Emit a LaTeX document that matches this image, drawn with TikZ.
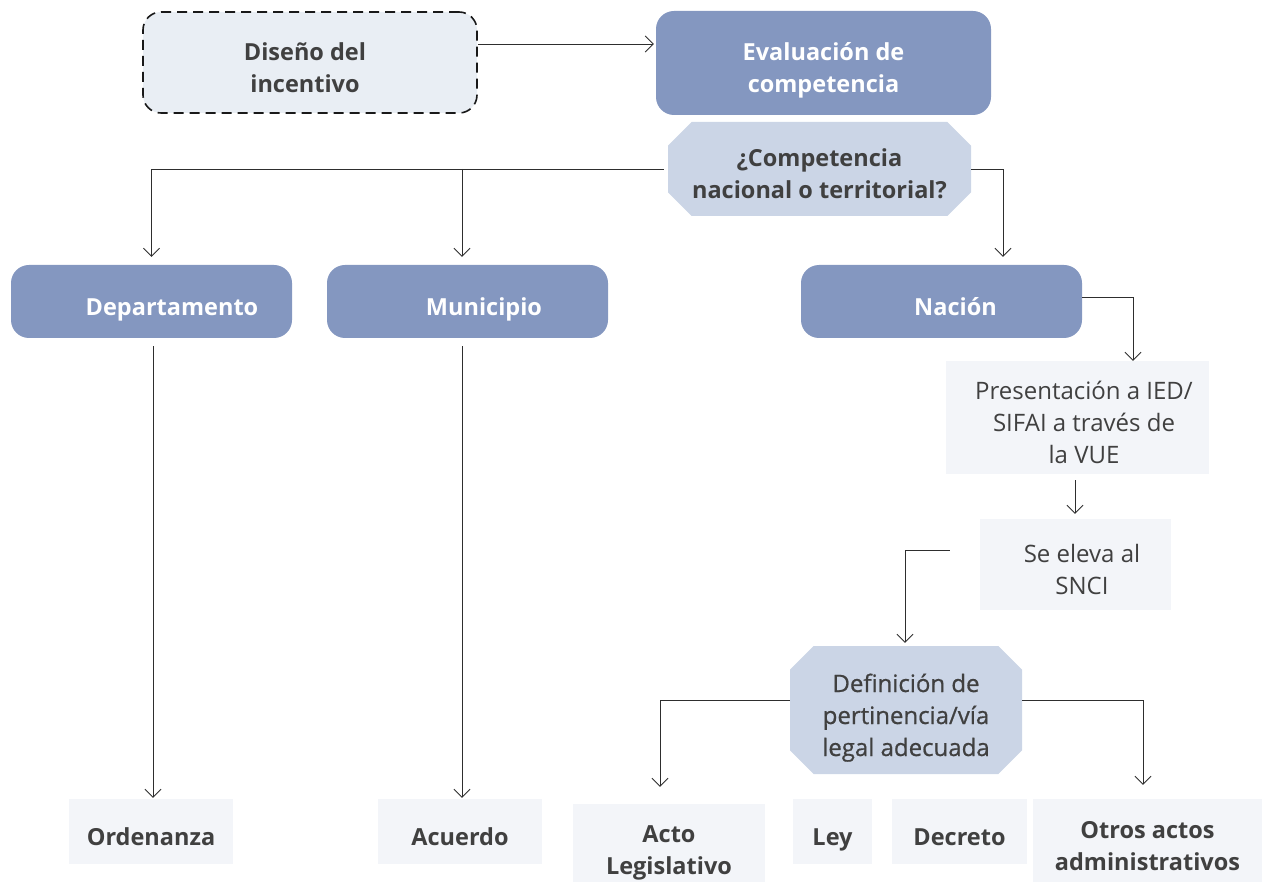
\documentclass[tikz,border=0pt]{standalone}
\usepackage{fontspec}
\setmainfont{Open Sans}
\usetikzlibrary{arrows.meta,shapes.misc}
\definecolor{dblue}{HTML}{8497C0}
\definecolor{lblue}{HTML}{CBD5E6}
\definecolor{pale}{HTML}{F3F5F9}
\definecolor{dashfill}{HTML}{E9EEF4}
\definecolor{txt}{HTML}{404040}
\definecolor{ln}{HTML}{2E2E2E}
\newcommand\tp{\rule{0pt}{35pt}}
\newcommand\bt{\rule[-7pt]{0pt}{7pt}}
\newcommand\tpx{\rule{0pt}{37pt}}
\begin{document}
\begin{tikzpicture}[x=1pt,y=-1pt,
  base/.style={align=center, inner sep=0pt, text=txt, font=\fontsize{23.5}{32}\selectfont\bfseries},
  dbox/.style={base, fill=dblue, rounded corners=18pt, text=white},
  dashbox/.style={base, fill=dashfill, draw=black!90, line width=1.6pt, dash pattern=on 10pt off 6pt, rounded corners=18pt},
  oct/.style={base, fill=lblue, chamfered rectangle, chamfered rectangle angle=45, chamfered rectangle xsep=20pt},
  pbox/.style={base, fill=pale},
  pnorm/.style={pbox, font=\fontsize{24}{32}\selectfont},
  arr/.style={draw=ln, line width=0.9pt, -{Straight Barb[length=8pt,width=16pt]}},
]
\useasboundingbox (0,0) rectangle (1262,882);

\node[dashbox, minimum width=334pt, minimum height=101pt] (d) at (310,62.5) {\tp\hspace*{-10pt}Diseño del\\\hspace*{-10pt}incentivo\bt};
\node[dbox, minimum width=335pt, minimum height=104pt] (e) at (823.5,63) {\tp Evaluación de\\competencia\bt};
\node[oct, minimum width=303pt, minimum height=94pt] (q) at (819.5,169) {\tp¿Competencia\\nacional o territorial?\bt};

\node[dbox, minimum width=281pt, minimum height=73pt] (dep) at (151.5,301.5) {\tp\hspace*{41pt}Departamento\bt};
\node[dbox, minimum width=281pt, minimum height=73pt] (mun) at (467.5,301.5) {\tp\hspace*{33pt}Municipio\bt};
\node[dbox, minimum width=281pt, minimum height=73pt] (nac) at (941.5,301.5) {\tp\hspace*{28pt}Nación\bt};

\node[pnorm, minimum width=263pt, minimum height=113pt] (pres) at (1077.5,417.5) {\tp\hspace*{13pt}Presentación a IED/\\\hspace*{13pt}SIFAI a través de\\\hspace*{13pt}la VUE\bt};
\node[pnorm, minimum width=191pt, minimum height=91pt] (se) at (1075.5,564.5) {\tp\hspace*{13pt}Se eleva al\\\hspace*{13pt}SNCI\bt};
\node[oct, font=\fontsize{24}{32}\selectfont\addfontfeature{FakeBold=0.7}, minimum width=232pt, minimum height=128pt] (def) at (906,710) {\tp Definición de\\pertinencia/vía\\legal adecuada\bt};

\node[pbox, minimum width=164pt, minimum height=65pt] (ord) at (151,831.5) {\tp Ordenanza\bt};
\node[pbox, minimum width=164pt, minimum height=65pt] (acu) at (460,831.5) {\tp Acuerdo\bt};
\node[pbox, minimum width=192pt, minimum height=78pt] (acto) at (669,843) {\tpx Acto\\Legislativo\bt};
\node[pbox, minimum width=79pt, minimum height=65pt] (ley) at (832.5,831.5) {\tp Ley\bt};
\node[pbox, minimum width=135pt, minimum height=65pt] (dec) at (959.5,831.5) {\tp Decreto\bt};
\node[pbox, minimum width=229pt, minimum height=83pt] (otros) at (1147.5,840.5) {\tp Otros actos\\administrativos\bt};

% connectors
\draw[arr] (d.east |- 0,44) -- ([xshift=-2pt]e.west |- 0,44);
\draw[arr, shorten <=4pt, shorten >=8pt] (q.west) -| (dep.north);
\draw[arr, shorten >=8pt] ([xshift=-5.5pt]mun.north |- q.west) -- ([xshift=-5.5pt]mun.north);
\draw[arr, shorten >=8pt] (q.east) -| ([xshift=61.5pt]nac.north);
\draw[arr, shorten <=8pt, shorten >=1pt] ([xshift=1.5pt]dep.south) -- ([xshift=2pt]ord.north);
\draw[arr, shorten <=8pt, shorten >=1pt] ([xshift=-5.5pt]mun.south) -- ([xshift=-5.5pt]mun.south |- acu.north);
\draw[arr] ([yshift=4.5pt]nac.east) -| ([xshift=55.5pt]pres.north);
\draw[arr, shorten <=6pt, shorten >=5pt] ([xshift=-2.5pt]pres.south) -- ([xshift=-0.5pt]se.north);
\draw[arr, shorten <=30pt, shorten >=3pt] ([yshift=14.5pt]se.west) -| ([xshift=-1pt]def.north);
\draw[arr, shorten >=17pt] ([yshift=10pt]def.west) -| ([xshift=-9pt]acto.north);
\draw[arr, shorten >=14pt] ([yshift=10pt]def.east) -| ([xshift=-4.5pt]otros.north);
\end{tikzpicture}
\end{document}
